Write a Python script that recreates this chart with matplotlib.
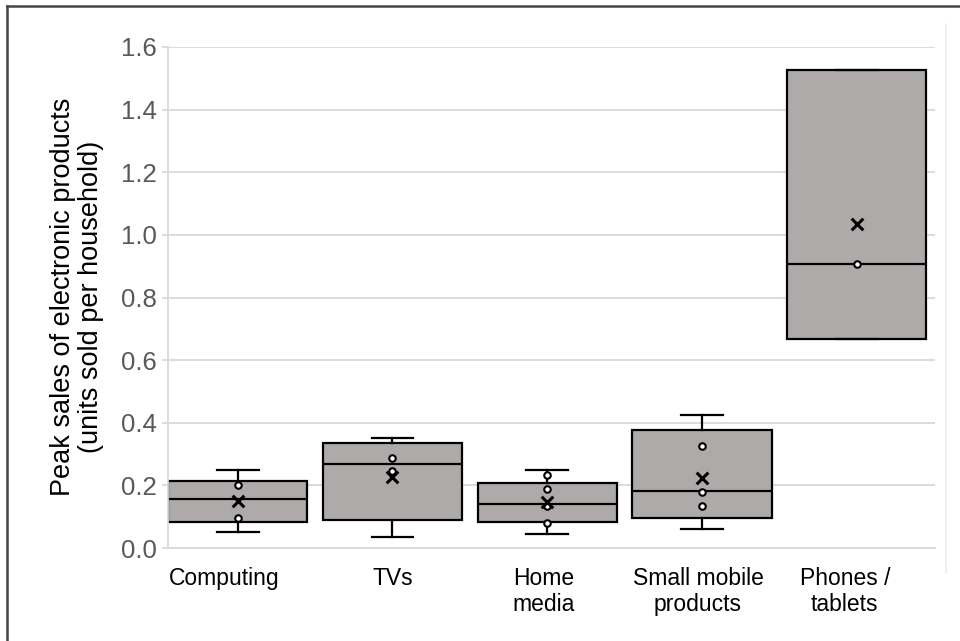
import matplotlib
matplotlib.use("Agg")
import matplotlib.pyplot as plt
from matplotlib.lines import Line2D
import matplotlib.transforms as mtransforms

plt.rcParams['font.family'] = ['Liberation Sans', 'DejaVu Sans']

categories = ["Computing", "TVs", "Home\nmedia", "Small mobile\nproducts", "Phones /\ntablets"]
q1 = [0.084, 0.089, 0.082, 0.097, 0.669]
median = [0.155, 0.267, 0.139, 0.183, 0.907]
q3 = [0.214, 0.334, 0.209, 0.376, 1.525]
whisker_low = [0.050, 0.036, 0.045, 0.062, 0.669]
whisker_high = [0.250, 0.350, 0.249, 0.425, 1.525]
means = [0.151, 0.228, 0.148, 0.225, 1.034]
inner_points = [
    [0.201, 0.097],
    [0.288, 0.246],
    [0.232, 0.188, 0.134, 0.079],
    [0.327, 0.180, 0.133],
    [0.907],
]
yticks = [0.0, 0.2, 0.4, 0.6, 0.8, 1.0, 1.2, 1.4, 1.6]

fig = plt.figure(figsize=(9.6, 6.41), dpi=100)
ax = fig.add_axes([168/960, 1-548/641, (935-168)/960, (548-47)/641])

stats = []
for i in range(len(categories)):
    stats.append(dict(q1=q1[i], med=median[i], q3=q3[i], whislo=whisker_low[i],
                      whishi=whisker_high[i], mean=means[i], fliers=[], label=categories[i]))

positions = list(range(len(categories)))
ax.bxp(stats, positions=positions, widths=0.9, patch_artist=True, showmeans=False,
       showfliers=False, capwidths=0.27,
       boxprops=dict(facecolor='#aeaaaa', edgecolor='black', linewidth=1.6),
       medianprops=dict(color='black', linewidth=1.6),
       whiskerprops=dict(color='black', linewidth=1.6),
       capprops=dict(color='black', linewidth=1.6))

for i, pts in enumerate(inner_points):
    ax.scatter([positions[i]] * len(pts), pts, s=22, facecolor='white',
               edgecolor='black', linewidths=1.5, zorder=5)
ax.scatter(positions, means, marker='x', s=70, color='black', linewidths=2.2, zorder=6)

ax.set_xlim(-0.45, 4.505)
ax.set_ylim(0, 1.6)
ax.set_yticks(yticks)
ax.set_yticklabels([f"{v:.1f}" for v in yticks])
ax.grid(axis='y', color='#d9d9d9', linewidth=1.3)
ax.set_axisbelow(True)
for s in ['top', 'right']:
    ax.spines[s].set_visible(False)
ax.spines['left'].set_color('#d9d9d9')
ax.spines['left'].set_linewidth(1.3)
ax.spines['bottom'].set_color('#d9d9d9')
ax.spines['bottom'].set_linewidth(1.3)
ax.tick_params(axis='y', colors='#d9d9d9', labelcolor='#595959', labelsize=18.5,
               length=4, width=1.3, pad=4)
ax.tick_params(axis='x', length=0, labelsize=16.5, labelcolor='black', pad=14)
ax.set_xticks(positions)
ax.set_xticklabels(categories, linespacing=1.15, va='top')
# Excel-style label placement (slightly left of box centres for some categories)
label_shift = [-13, 0, -4, -4, -12]
for lbl, dx in zip(ax.get_xticklabels(), label_shift):
    lbl.set_transform(lbl.get_transform() + mtransforms.ScaledTranslation(dx/100, 0, fig.dpi_scale_trans))

fig.text(77/960, 1-297/641, "Peak sales of electronic products\n(units sold per household)",
         rotation=90, ha='center', va='center', fontsize=19.5, multialignment='center',
         linespacing=1.08)

# chart frame
fig.add_artist(Line2D([7/960, 7/960], [0, 1-6/641], color='#444444', linewidth=1.8))
fig.add_artist(Line2D([7/960, 1], [1-6/641, 1-6/641], color='#444444', linewidth=1.8))
fig.add_artist(Line2D([946/960, 946/960], [1-573/641, 1-24/641], color='#eeeeee', linewidth=1.2))

fig.savefig("out.png", dpi=100, facecolor='white')
